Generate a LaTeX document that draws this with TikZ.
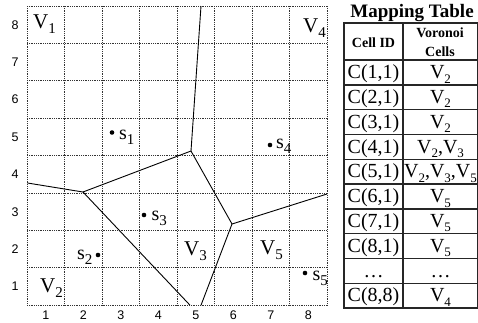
\documentclass[tikz,border=0pt]{standalone}
\usepackage{fontspec}
\setmainfont{Liberation Serif}
\newfontfamily\axisfont{Liberation Sans}
\newcommand{\gsub}[1]{\raisebox{-5pt}{\fontsize{15}{15}\selectfont #1}}
\newcommand{\tsub}[1]{\raisebox{-4.5pt}{\fontsize{13}{13}\selectfont #1}}
\begin{document}
\begin{tikzpicture}[x=1pt,y=-1pt,
  gridline/.style={line width=1pt, black!80, dash pattern=on 1pt off 0.8pt},
  vline/.style={line width=0.9pt, black},
  tline/.style={line width=1.4pt, black!85},
  glab/.style={font=\fontsize{21}{21}\selectfont, inner sep=0pt, anchor=base west},
  slab/.style={font=\fontsize{20}{20}\selectfont, inner sep=0pt, anchor=base west},
  axlab/.style={font=\axisfont\fontsize{12.5}{12.5}\selectfont, inner sep=0pt, anchor=center},
  tcell/.style={font=\fontsize{20}{20}\selectfont, inner sep=0pt, anchor=base},
  thead/.style={font=\bfseries\fontsize{14}{14}\selectfont, inner sep=0pt, anchor=base},
  site/.style={circle, fill=black, inner sep=0pt, minimum size=4.6pt}]
\useasboundingbox (0,0) rectangle (478,322);

% grid
\foreach \i in {0,...,8} {
  \draw[gridline] ({27+37.5*\i},6) -- ({27+37.5*\i},305.2);
  \draw[gridline] (27,{6+37.4*\i}) -- (327,{6+37.4*\i});
}
% axis labels
\foreach \k in {1,...,8} {
  \node[axlab] (r\k) at (15,{305.2-37.4*(\k-0.5)}) {\k};
  \node[axlab] (c\k) at ({27+37.5*(\k-0.5)},315.5) {\k};
}

% Voronoi vertices
\coordinate (Ptop) at (201,6);
\coordinate (B) at (191,151);
\coordinate (A) at (83,192);
\coordinate (L) at (27.5,183);
\coordinate (Abot) at (190,305.2);
\coordinate (C) at (232,224);
\coordinate (R) at (327,194);
\coordinate (Cbot) at (201,305.2);
\draw[vline] (Ptop) -- (B);
\draw[vline] (B) -- (A);
\draw[vline] (L) -- (A);
\draw[vline] (A) -- (Abot);
\draw[vline] (B) -- (C);
\draw[vline] (C) -- (R);
\draw[vline] (C) -- (Cbot);

% sites
\node[site] (s1) at (112,132.5) {};
\node[site] (s2) at (98,255) {};
\node[site] (s3) at (144,215) {};
\node[site] (s4) at (270,145) {};
\node[site] (s5) at (305,273) {};
\node[slab] (l1) at (119,139) {s\gsub{1}};
\node[slab] (l2) at (77,259) {s\gsub{2}};
\node[slab] (l3) at (151.5,220) {s\gsub{3}};
\node[slab] (l4) at (276,148) {s\gsub{4}};
\node[slab] (l5) at (312.5,280) {s\gsub{5}};

% region labels
\node[glab] (v1) at (33,28) {V\gsub{1}};
\node[glab] (v4) at (303,32) {V\gsub{4}};
\node[glab] (v2) at (40,292) {V\gsub{2}};
\node[glab] (v3) at (184,255) {V\gsub{3}};
\node[glab] (v5) at (260,254) {V\gsub{5}};

% mapping table
\node[font=\bfseries\fontsize{19}{19}\selectfont, inner sep=0pt, anchor=base] (title) at (412,17) {Mapping Table};
\draw[tline] (344,23) rectangle (477.3,308);
\draw[tline] (403,23) -- (403,308);
\draw[tline] (344,60) -- (477.3,60);
\foreach \i in {1,...,9} \draw[tline] (344,{60+24.8*\i}) -- (477.3,{60+24.8*\i});
\node[thead] (h1) at (373.5,47) {Cell ID};
\node[thead] (h2a) at (440,37) {Voronoi};
\node[thead] (h2b) at (440,56.5) {Cells};
\foreach \i/\a/\b in {0/C(1{,}1)/V\tsub{2}, 1/C(2{,}1)/V\tsub{2}, 2/C(3{,}1)/V\tsub{2},
   3/C(4{,}1)/{V\tsub{2},V\tsub{3}}, 4/C(5{,}1)/{V\tsub{2},V\tsub{3},V\tsub{5}},
   5/C(6{,}1)/V\tsub{5}, 6/C(7{,}1)/V\tsub{5}, 7/C(8{,}1)/V\tsub{5}, 8/\dots/\dots, 9/C(8{,}8)/V\tsub{4}} {
  \node[tcell] (ta\i) at (373.5,{60+24.8*(\i+0.5)+6.2}) {\a};
  \node[tcell] (tb\i) at (440.5,{60+24.8*(\i+0.5)+6.2}) {\b};
}
\end{tikzpicture}
\end{document}
